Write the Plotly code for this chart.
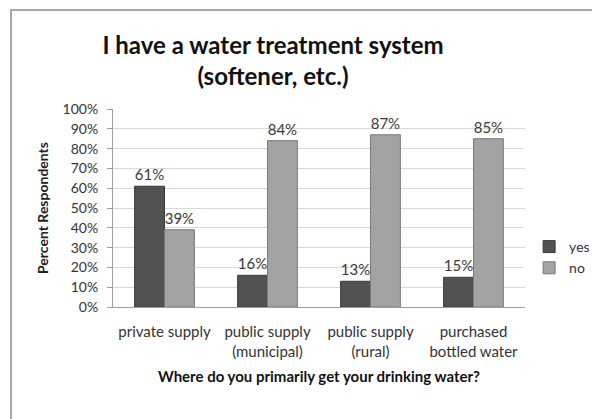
import plotly.graph_objects as go

categories = ["private supply", "public supply<br>(municipal)", "public supply<br>(rural)", "purchased<br>bottled water"]
yes_values = [61, 16, 13, 15]
no_values = [39, 84, 87, 85]
y_ticks = list(range(0, 101, 10))

font_family = "Lato, 'Open Sans', sans-serif"

fig = go.Figure()
fig.add_trace(go.Bar(
    name="yes", x=categories, y=yes_values,
    marker=dict(color="#525252", line=dict(color="#3a3a3a", width=1)),
    text=[f"{v}%" for v in yes_values], textposition="outside",
    textfont=dict(size=15, color="#3a3a3a"), cliponaxis=False,
))
fig.add_trace(go.Bar(
    name="no", x=categories, y=no_values,
    marker=dict(color="#a3a3a3", line=dict(color="#7a7a7a", width=1)),
    text=[f"{v}%" for v in no_values], textposition="outside",
    textfont=dict(size=15, color="#3a3a3a"), cliponaxis=False,
))

fig.update_layout(
    width=592, height=419,
    margin=dict(l=113, r=67, t=109, b=112, autoexpand=False),
    paper_bgcolor="white", plot_bgcolor="white",
    font=dict(family=font_family, color="#333333"),
    barmode="group", bargap=0.42, bargroupgap=0.0,
    title=dict(
        text="<b>I have a water treatment system<br>(softener, etc.)</b>",
        x=273 / 592, xanchor="center", xref="container",
        y=0.872, yanchor="middle", yref="container",
        font=dict(size=24, color="#111111", family=font_family),
    ),
    legend=dict(
        x=1.01, y=0.25, xanchor="left", yanchor="middle",
        font=dict(size=14, color="#333333"),
        bgcolor="rgba(0,0,0,0)", itemwidth=30, tracegroupgap=4,
    ),
    showlegend=True,
)
fig.update_yaxes(
    range=[0, 100], tickvals=y_ticks, ticktext=[f"{v}%" for v in y_ticks],
    showgrid=True, gridcolor="#d9d9d9", gridwidth=1,
    showline=True, linecolor="#a0a0a0", ticks="outside", ticklen=5, tickcolor="#a0a0a0",
    tickfont=dict(size=14, color="#333333"), ticklabelstandoff=6,
    title=dict(text="<b>Percent Respondents</b>", font=dict(size=14, color="#222222"), standoff=10),
    zeroline=False,
)
fig.update_xaxes(
    showline=True, linecolor="#a0a0a0",
    tickfont=dict(size=15, color="#333333"), ticklabelstandoff=11,
    title=dict(text="<b>Where do you primarily get your drinking water?</b>", font=dict(size=15, color="#111111"), standoff=12),
)

# chart frame (only top and left edges fall inside the page)
fig.add_shape(type="rect", xref="paper", yref="paper",
              x0=-(113 - 11) / 412, x1=(600 - 113) / 412,
              y0=-(430 - 307) / 198, y1=(307 - 10) / 198,
              line=dict(color="#a8a8a8", width=2), layer="below")

fig.write_html("out.html")
